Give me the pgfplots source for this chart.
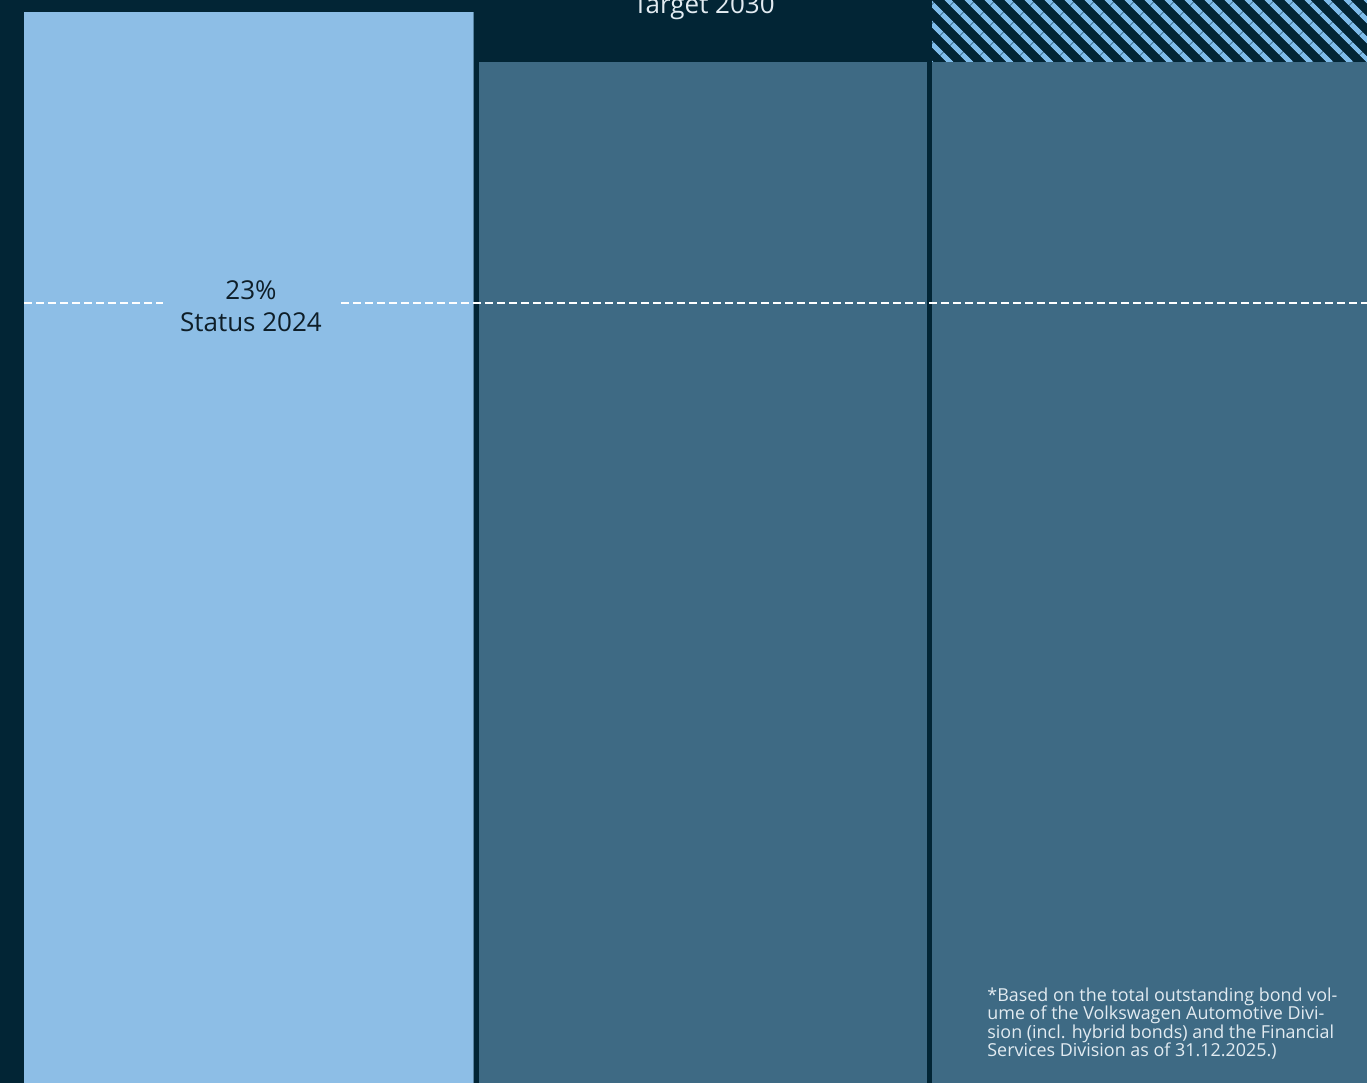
\documentclass[border=0pt]{standalone}
\usepackage{pgfplots}
\pgfplotsset{compat=1.18}
\usetikzlibrary{patterns.meta}
\usepackage{fontspec}
\setmainfont{Open Sans}

\definecolor{bgdark}{HTML}{022535}
\definecolor{barlight}{HTML}{8DBEE6}
\definecolor{barmid}{HTML}{3E6A84}
\definecolor{hatch}{HTML}{7EBCEA}
\definecolor{labeldark}{HTML}{0E1E28}
\definecolor{notetext}{HTML}{E2EBF1}

\begin{document}
\begin{tikzpicture}
\begin{axis}[
    scale only axis,
    width=683.5pt, height=541.5pt,
    xmin=0, xmax=1367, ymin=0, ymax=1083,
    hide axis,
    clip=true,
]
% background
\addplot[fill=bgdark, draw=none] coordinates {(0,0) (1367,0) (1367,1083) (0,1083)} -- cycle;
% status 2024 bar
\addplot[fill=barlight, draw=none] coordinates {(24,0) (472.5,0) (472.5,1071) (24,1071)} -- cycle;
\addplot[fill=barmid!70!barlight, draw=none] coordinates {(472.5,0) (473.5,0) (473.5,1071) (472.5,1071)} -- cycle;
% target 2030 bars
\addplot[fill=barmid, draw=none] coordinates {(479,0) (926.5,0) (926.5,1021) (479,1021)} -- cycle;
\addplot[fill=barmid, draw=none] coordinates {(932,0) (1367,0) (1367,1021) (932,1021)} -- cycle;
% hatched part above the third bar
\addplot[draw=none, pattern={Lines[angle=-45, distance=6.9pt, line width=2.7pt]}, pattern color=hatch]
    coordinates {(932,1021) (1367,1021) (1367,1083) (932,1083)} -- cycle;
% 23% level line
\addplot[white, line width=0.9pt, dash pattern=on 4pt off 2pt] coordinates {(24,780) (163,780)};
\addplot[white, line width=0.9pt, dash pattern=on 4pt off 2pt] coordinates {(341,780) (1367,780)};

\node[anchor=base, text=labeldark, font=\fontsize{13}{15}\selectfont] at (axis cs:251,783) {23\%};
\node[anchor=base, text=labeldark, font=\fontsize{13}{15}\selectfont] at (axis cs:251,751) {Status 2024};
\node[anchor=base, text=notetext, font=\fontsize{13}{15}\selectfont] at (axis cs:704,1069) {Target 2030};
\node[anchor=north west, inner sep=0pt, align=left, text=notetext, font=\fontsize{8.95}{9.3}\selectfont]
    at (axis cs:987,96) {*Based on the total outstanding bond vol-\\ume of the Volkswagen Automotive Divi-\\sion (incl. hybrid bonds) and the Financial\\Services Division as of 31.12.2025.)};
\end{axis}
\pgfresetboundingbox
\useasboundingbox (current axis.south west) rectangle (current axis.north east);
\end{tikzpicture}
\end{document}
